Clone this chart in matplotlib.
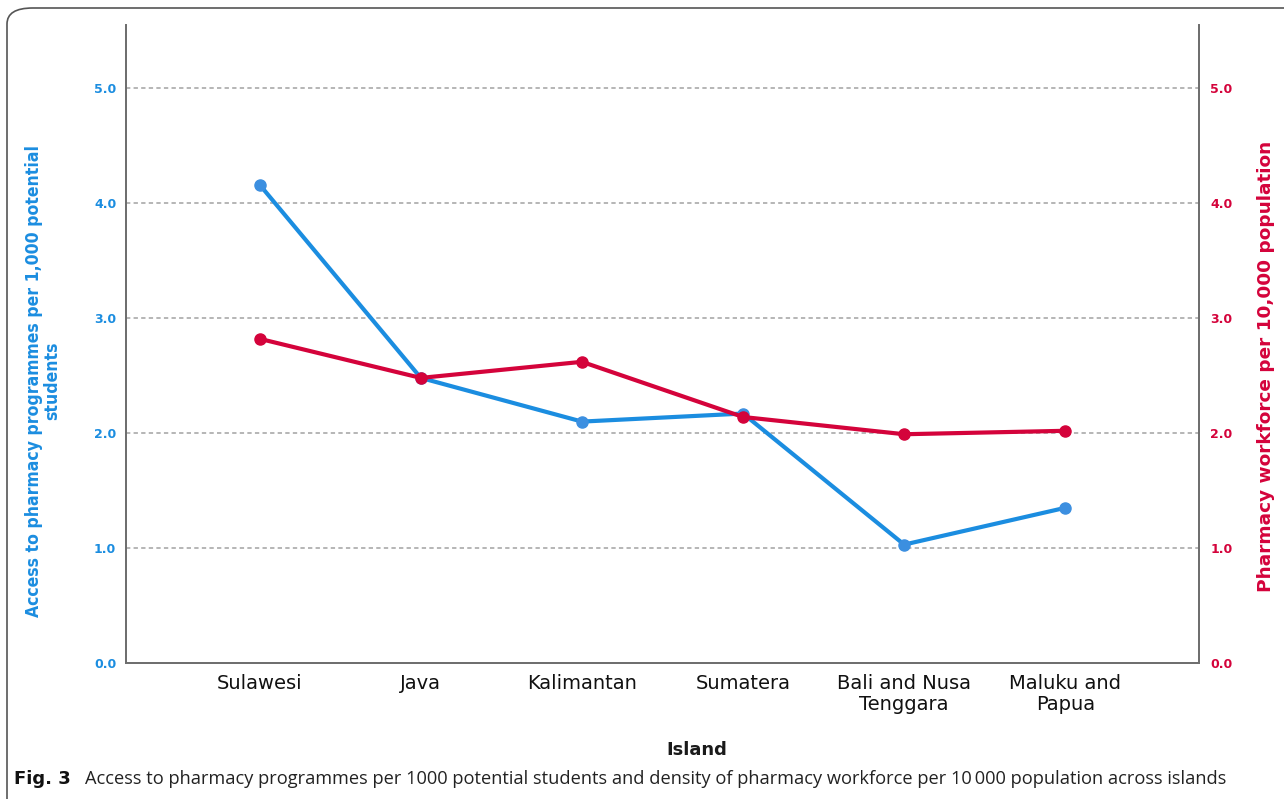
import matplotlib
matplotlib.use("Agg")
import matplotlib.pyplot as plt
from matplotlib.patches import FancyBboxPatch

islands = ["Sulawesi", "Java", "Kalimantan", "Sumatera",
           "Bali and Nusa\nTenggara", "Maluku and\nPapua"]
access_per_1000 = [4.16, 2.48, 2.10, 2.17, 1.03, 1.35]
workforce_per_10000 = [2.82, 2.48, 2.62, 2.14, 1.99, 2.02]
y_ticks = [0.0, 1.0, 2.0, 3.0, 4.0, 5.0]

BLUE = "#1b8de0"
RED = "#d4033b"
SPINE = "#6e6e6e"

fig = plt.figure(figsize=(12.84, 7.99), dpi=100)
fig.patch.set_facecolor("white")

# rounded panel border
frame = FancyBboxPatch((7 / 1284, -0.05), 1.2, 1.05 - 8 / 799,
                       boxstyle="round,pad=0,rounding_size=0.02",
                       transform=fig.transFigure, facecolor="none",
                       edgecolor="#555555", linewidth=1.2, clip_on=False)
fig.patches.append(frame)

ax = fig.add_axes([126 / 1284, 1 - 663 / 799, (1199 - 126) / 1284, (663 - 25) / 799])
ax2 = ax.twinx()

x = list(range(len(islands)))
ax.set_xlim(-0.83, len(islands) - 1 + 0.83)
ax.set_ylim(0, 5.55)
ax2.set_ylim(0, 5.55)

for v in y_ticks[1:]:
    ax.axhline(v, color="#b0b0b0", linestyle=(0, (2.4, 1.8)), linewidth=1.3, zorder=1)

ax.plot(x, access_per_1000, color=BLUE, linewidth=3.0, marker="o",
        markersize=8, markerfacecolor="#3c8fe0", markeredgecolor="#3c8fe0",
        zorder=3, solid_capstyle="round")
ax2.plot(x, workforce_per_10000, color=RED, linewidth=3.0, marker="o",
         markersize=8, markerfacecolor=RED, markeredgecolor=RED,
         zorder=4, solid_capstyle="round")

for a in (ax, ax2):
    a.spines["top"].set_visible(False)
    for s in ("left", "right", "bottom"):
        a.spines[s].set_color(SPINE)
        a.spines[s].set_linewidth(1.3)
    a.tick_params(length=0)

ax.set_xticks(x)
ax.set_xticklabels(islands, fontsize=14, color="#111111", linespacing=1.1)
ax.tick_params(axis="x", pad=8)

ax.set_yticks(y_ticks)
ax.set_yticklabels([f"{v:.1f}" for v in y_ticks], fontsize=9, color=BLUE,
                   fontweight="bold")
ax.tick_params(axis="y", pad=7)
ax2.set_yticks(y_ticks)
ax2.set_yticklabels([f"{v:.1f}" for v in y_ticks], fontsize=9, color=RED,
                    fontweight="bold")
ax2.tick_params(axis="y", pad=8)

fig.text(43 / 1284, 1 - 381 / 799,
         "Access to pharmacy programmes per 1,000 potential\nstudents",
         rotation=90, ha="center", va="center", fontsize=12.6,
         fontweight="bold", fontstretch="condensed", color=BLUE,
         linespacing=1.0, family="DejaVu Sans")
fig.text(1266 / 1284, 1 - 366 / 799,
         "Pharmacy workforce per 10,000 population",
         rotation=90, ha="center", va="center", fontsize=13.3,
         fontweight="bold", color=RED)

fig.text(697 / 1284, 1 - 750 / 799, "Island", ha="center", va="center",
         fontsize=13, fontweight="bold", color="#1a1a1a")

fig.text(14 / 1284, 1 - 779 / 799, "Fig. 3", ha="left", va="center",
         fontsize=13, fontweight="bold", color="#111111")
fig.text(85 / 1284, 1 - 779 / 799,
         "Access to pharmacy programmes per 1000 potential students and density "
         "of pharmacy workforce per 10\u2009000 population across islands",
         ha="left", va="center", fontsize=13.15, color="#222222",
         family=["Open Sans", "DejaVu Sans"])

fig.savefig("out.png", dpi=100, facecolor="white")
